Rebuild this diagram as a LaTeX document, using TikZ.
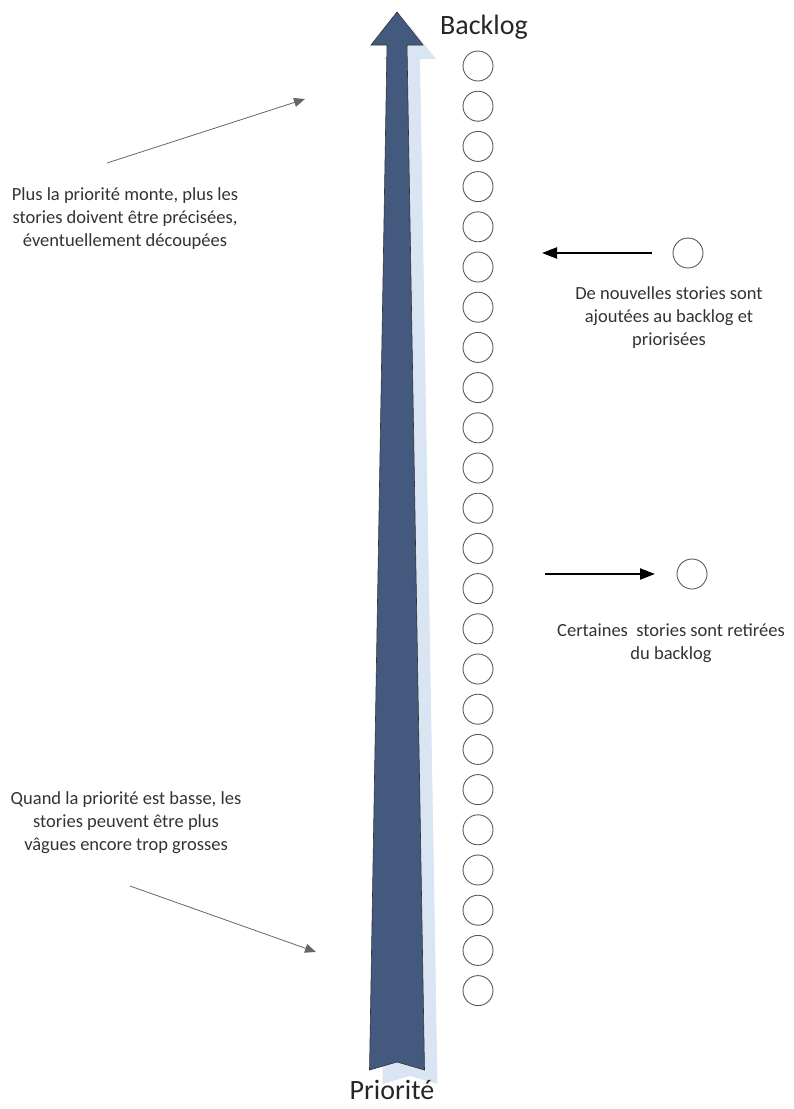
\documentclass[tikz,border=0pt]{standalone}
\usepackage{fontspec}
\setmainfont{Carlito}
\usetikzlibrary{arrows.meta}

\definecolor{arrowblue}{HTML}{435A7E}
\definecolor{shadowblue}{HTML}{DAE5F3}

% outline of the big priority arrow
\newcommand{\prioarrow}{(397,12) -- (423,45) -- (407,45) -- (424.5,1070) -- (397,1062)
  -- (369.5,1070) -- (387,45) -- (371,45) -- cycle}

\tikzset{
  story/.style={circle, draw=black!65, line width=0.9pt, minimum size=30pt, inner sep=0pt},
  note/.style={align=center, font=\fontsize{18.5}{23}\selectfont, text=black!80},
  title/.style={font=\fontsize{28}{32}\selectfont, text=black!85},
  pointer/.style={draw=black!60, line width=0.8pt, -{Triangle[length=11pt,width=9pt]}},
  move/.style={line width=2.2pt, -{Triangle[length=15pt,width=11pt]}},
}

\begin{document}
\begin{tikzpicture}[x=1pt,y=-1pt]
    \useasboundingbox (0,0) rectangle (793,1109);

    % priority arrow and its shadow
    \fill[shadowblue, shift={(13,14)}] \prioarrow;
    \filldraw[fill=arrowblue, draw=black!80, line width=0.6pt] \prioarrow;

    \node[title] (backlog) at (484,27) {Backlog};
    \node[title] (prio) at (392,1090) {Priorité};

    % the backlog
    \foreach \i in {0,...,23} {
            \node[story] (s\i) at (478,{66+40.2*\i}) {};
        }

    % stories coming in
    \node[story] (newstory) at (688,253) {};
    \coordinate (infrom) at (652,253);
    \coordinate (into) at (542,253);
    \draw[move] (infrom) -- (into);
    \node[note] (intext) at (669,318) {De nouvelles stories sont\\ajoutées au backlog et\\priorisées};

    % stories going out
    \node[story] (oldstory) at (692,574) {};
    \coordinate (outfrom) at (545,574);
    \coordinate (outto) at (655,574);
    \draw[move] (outfrom) -- (outto);
    \node[note] (outtext) at (671,643) {Certaines\ \ stories sont retirées\\du backlog};

    % notes on the left
    \node[note] (hightext) at (125,219) {Plus la priorité monte, plus les\\stories doivent être précisées,\\éventuellement découpées};
    \coordinate (upfrom) at (107,163);
    \coordinate (upto) at (305,99);
    \draw[pointer] (upfrom) -- (upto);

    \node[note] (lowtext) at (126,823) {Quand la priorité est basse, les\\stories peuvent être plus\\vâgues encore trop grosses};
    \coordinate (downfrom) at (130,886);
    \coordinate (downto) at (316,952);
    \draw[pointer] (downfrom) -- (downto);
\end{tikzpicture}
\end{document}
